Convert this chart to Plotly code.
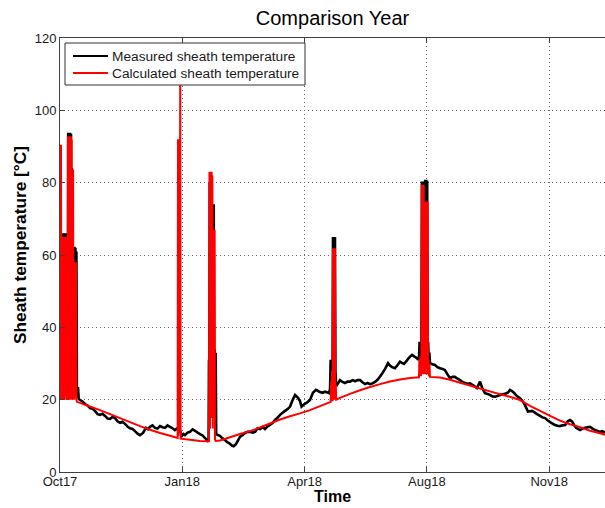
import pandas as pd
import plotly.graph_objects as go

# Series start date; x values below are days elapsed since this date.
START_DATE = "2017-10-05"

# Measured sheath temperature: (day, degC)
measured = [
    # October start-up spikes
    (0.0, 20), (0.3, 39), (0.6, 21), (0.9, 38), (1.2, 22), (1.6, 21), (2.0, 66), (2.4, 22),
    (2.8, 66), (3.2, 21), (3.6, 66), (4.0, 24), (4.4, 66), (4.8, 27), (5.2, 66), (5.6, 21),
    (6.0, 38), (6.4, 20), (6.7, 93.8), (7.0, 21), (7.4, 93.8), (7.8, 22), (8.2, 93.8), (8.6, 21),
    (9.0, 93.5), (9.4, 22), (9.8, 84), (10.2, 78), (10.6, 22), (11.0, 62.3), (11.4, 22),
    (11.8, 62.3), (12.2, 21), (12.6, 62), (13.0, 22), (13.4, 61), (13.8, 21),
    # autumn / winter
    (13.9, 20.5), (14.7, 23.5), (15.3, 20.2), (16.4, 19.9), (18.4, 19.5), (20.4, 18.8),
    (22.5, 18.4), (24.5, 17.7), (26.6, 17.5), (28.6, 16.9), (30.7, 16.0), (32.7, 15.8),
    (34.8, 16.1), (36.8, 15.5), (38.9, 14.8), (40.9, 14.7), (43.0, 15.2), (45.0, 14.9),
    (47.0, 14.0), (49.1, 13.6), (51.1, 13.9), (53.1, 13.3), (55.2, 12.6), (57.2, 12.1),
    (59.3, 11.9), (61.3, 11.3), (63.4, 10.6), (65.4, 10.2), (67.9, 10.8), (70.3, 12.2),
    (72.0, 11.8), (73.6, 12.5), (75.6, 12.9), (77.7, 12.2), (79.7, 12.0), (81.8, 12.7),
    (83.8, 12.4), (85.9, 12.2), (87.9, 12.9), (89.9, 12.5), (92.0, 12.1), (94.0, 11.6),
    (96.5, 12.2), (98.0, 11.5), (99.8, 10.0), (101.0, 10.5), (102.2, 10.2), (104.3, 10.9),
    (106.3, 11.1), (108.4, 11.8), (110.4, 11.4), (112.5, 10.9), (114.5, 10.5), (116.6, 10.1),
    (118.6, 9.4), (121.0, 8.4),
    # February event
    (121.5, 9.0), (121.8, 31), (122.1, 12), (122.4, 80), (122.8, 15), (123.2, 80), (123.6, 15),
    (124.0, 80), (124.4, 15), (124.9, 74), (125.3, 20), (125.7, 74), (126.1, 20), (126.5, 34),
    (126.9, 14), (127.3, 33), (127.7, 10.5),
    # spring
    (129.0, 10.2), (130.8, 10.0), (132.9, 9.3), (134.9, 8.85), (136.5, 8.3), (138.2, 8.0),
    (140.6, 7.3), (142.0, 7.1), (143.9, 7.7), (147.2, 9.8), (149.2, 10.2), (151.3, 10.8),
    (153.4, 11.1), (155.4, 11.1), (157.4, 10.9), (159.5, 11.1), (161.5, 12.1), (163.5, 11.9),
    (165.6, 12.4), (167.6, 11.9), (169.7, 12.6), (171.7, 13.0), (173.7, 13.5), (175.8, 14.4),
    (177.8, 15.0), (179.9, 15.8), (182.0, 16.4), (184.0, 16.9), (186.1, 17.4), (188.1, 18.1),
    (190.1, 19.8), (192.2, 21.3), (194.6, 20.5), (196.2, 19.6), (197.5, 18.1), (199.1, 18.6),
    (201.5, 19.1), (204.4, 19.9), (206.8, 21.9), (209.3, 22.7), (211.0, 22.4), (212.6, 22.1),
    (214.6, 21.9), (216.7, 22.2), (218.7, 22.0), (220.0, 21.8),
    # May event
    (220.8, 23), (221.3, 31), (221.8, 22.7), (222.3, 30), (222.8, 23), (223.2, 65), (223.6, 25),
    (224.0, 65), (224.4, 25), (224.8, 65), (225.2, 28), (225.7, 24.6),
    # summer
    (226.6, 24.1), (228.9, 25.4), (231.0, 24.9), (233.0, 24.6), (235.1, 25.0), (237.1, 25.0),
    (239.2, 25.4), (241.2, 25.1), (243.3, 25.4), (245.3, 25.4), (247.3, 24.8), (249.4, 24.3),
    (251.4, 24.6), (253.5, 24.3), (255.5, 24.5), (257.6, 24.9), (259.6, 25.5), (261.7, 26.4),
    (263.7, 27.4), (265.8, 28.5), (268.2, 30.1), (269.8, 29.4), (271.5, 29.0), (273.9, 28.7),
    (276.0, 29.6), (278.0, 30.5), (279.6, 30.2), (281.3, 29.9), (283.4, 30.7), (284.6, 31.3),
    (286.2, 31.9), (287.8, 32.4), (289.8, 31.9), (291.9, 31.5), (292.5, 31.0),
    # August event
    (293.5, 31.5), (294.0, 36), (294.5, 29), (295.0, 35), (295.5, 30), (295.9, 80.3), (296.3, 30),
    (296.7, 80.3), (297.1, 30), (297.5, 80), (297.9, 32), (298.1, 42), (298.3, 33), (298.6, 80.8),
    (299.0, 30), (299.4, 80.8), (299.8, 30), (300.2, 80.5), (300.6, 31), (301.0, 36), (301.5, 30),
    (302.0, 33),
    # autumn 2018
    (302.5, 30.1), (304.5, 29.8), (306.6, 29.6), (308.6, 29.0), (310.7, 28.7), (312.7, 28.5),
    (314.7, 28.2), (316.8, 27.0), (318.9, 25.9), (320.9, 26.3), (322.9, 26.3), (325.0, 25.8),
    (327.1, 25.4), (329.1, 24.9), (331.2, 24.6), (333.2, 24.4), (335.2, 24.5), (338.5, 23.8),
    (340.9, 23.2), (343.4, 25.0), (345.5, 23.0), (347.5, 21.8), (349.6, 21.6), (351.6, 21.3),
    (353.6, 20.9), (355.7, 20.8), (357.7, 21.0), (359.8, 21.3), (361.8, 21.5), (363.9, 21.6),
    (366.3, 22.0), (367.9, 22.7), (369.5, 22.4), (371.2, 21.9), (373.6, 21.0), (376.1, 20.4),
    (378.1, 19.6), (380.2, 18.5), (382.6, 16.7), (384.3, 16.8), (385.9, 16.9), (388.0, 16.5),
    (390.4, 15.9), (392.5, 15.5), (394.5, 15.1), (396.6, 14.9), (398.6, 14.3), (400.7, 13.8),
    (402.7, 13.4), (404.7, 13.0), (406.8, 12.8), (408.8, 12.7), (410.8, 12.9), (413.0, 13.0),
    (415.4, 14.1), (417.0, 14.4), (418.6, 14.0), (420.3, 13.0), (422.0, 12.2), (425.2, 11.6),
    (427.3, 12.0), (429.3, 12.2), (433.4, 12.5), (435.4, 12.0), (437.5, 11.6), (441.5, 11.1),
    (443.5, 11.3), (445.6, 10.8),
]

# Calculated sheath temperature: (day, degC)
calculated = [
    # October start-up spikes
    (0.0, 20), (0.2, 90.5), (0.5, 20), (0.8, 90.5), (1.1, 22), (1.4, 20), (1.7, 21), (2.0, 65),
    (2.3, 20), (2.6, 65), (2.9, 22), (3.2, 65), (3.5, 20), (3.8, 65), (4.1, 21), (4.4, 65),
    (4.7, 22), (5.0, 65), (5.3, 20), (5.8, 20.5), (6.3, 20), (6.5, 92.8), (6.8, 21), (7.1, 92.8),
    (7.4, 20), (7.7, 92.8), (8.0, 22), (8.3, 92.8), (8.6, 20), (8.9, 92.8), (9.2, 21), (9.5, 92),
    (9.8, 20), (10.1, 83.5), (10.4, 20), (10.7, 83.5), (11.0, 21), (11.3, 58), (11.6, 20),
    (11.9, 58), (12.2, 22), (12.5, 58), (12.8, 21), (13.1, 58), (13.4, 20),
    # autumn / winter
    (13.9, 19.4), (24.5, 18.1), (32.7, 17.1), (40.9, 16.0), (49.1, 14.9), (57.2, 13.8),
    (65.4, 12.7), (73.6, 11.7), (81.8, 10.8), (89.9, 10.0), (96.2, 9.4),
    # January event
    (96.5, 92), (96.8, 10), (97.1, 92), (97.4, 12), (97.7, 92), (98.0, 15), (98.3, 118),
    (98.6, 9.2),
    (106.3, 8.9), (114.5, 8.6), (121.8, 8.5),
    # February event
    (122.0, 30), (122.2, 83), (122.5, 12), (122.8, 83), (123.1, 15), (123.4, 83), (123.7, 20),
    (124.0, 83), (124.3, 15), (124.6, 82), (124.9, 12), (125.2, 67), (125.5, 20), (125.8, 67),
    (126.1, 25), (126.4, 67), (126.7, 9), (127.2, 8.6),
    # spring
    (130.8, 8.7), (139.0, 9.6), (147.2, 10.5), (155.4, 11.3), (163.5, 12.3), (171.7, 13.4),
    (179.9, 14.5), (188.1, 15.4), (196.2, 16.2), (204.4, 17.1), (212.6, 18.2), (220.8, 19.3),
    # May event
    (221.3, 19.4), (221.7, 25), (222.1, 19.5), (222.5, 28), (222.9, 19.6), (223.2, 61.9),
    (223.6, 20), (224.0, 61.9), (224.4, 21), (224.8, 61.9), (225.1, 20), (225.5, 24),
    (225.9, 20.0),
    # summer
    (228.9, 20.5), (237.1, 21.6), (245.3, 22.6), (253.5, 23.5), (261.7, 24.3), (269.8, 25.0),
    (278.0, 25.6), (286.2, 26.0), (293.5, 26.2),
    # August event
    (293.9, 31), (294.3, 26.5), (294.7, 32), (295.1, 26.5), (295.5, 30), (295.8, 79.4),
    (296.2, 27), (296.6, 79.4), (297.0, 27), (297.4, 79.4), (297.8, 27), (298.4, 74.8),
    (298.8, 27), (299.2, 74.8), (299.6, 27), (300.0, 74.8), (300.4, 27), (300.6, 74.8),
    (300.9, 27), (301.3, 31), (301.7, 26.5), (302.1, 30), (302.5, 26.3),
    # autumn 2018
    (310.7, 26.1), (318.9, 25.5), (327.1, 24.7), (335.2, 23.9), (343.4, 23.1), (351.6, 22.3),
    (359.8, 21.5), (367.9, 20.8), (376.1, 19.9), (384.3, 18.3), (392.5, 16.9), (400.7, 15.5),
    (408.8, 14.2), (417.0, 13.2), (425.2, 12.4), (433.4, 11.4), (441.5, 10.7), (445.6, 10.3),
]

series_names = ["Measured sheath temperature", "Calculated sheath temperature"]
series_colors = ["black", "#ff0000"]
series_widths = [2.6, 2.0]

x_range_days = [0, 445.6]
tick_dates = ["2017-10-05", "2018-01-13", "2018-04-23", "2018-08-01", "2018-11-09"]
tick_labels = ["Oct17", "Jan18", "Apr18", "Aug18", "Nov18"]
y_ticks = [0, 20, 40, 60, 80, 100, 120]

t0 = pd.Timestamp(START_DATE)


def to_time(days):
    return t0 + pd.to_timedelta(list(days), unit="D")


FONT = "Liberation Sans, Arial, Helvetica, sans-serif"
AXIS_COLOR = "#404040"

# Plot-area geometry in pixels (used to place the legend box and axis titles)
W, H = 605, 508
L, R, T, B = 60, 0, 38, 36
PW, PH = W - L - R, H - T - B


def px_x(p):
    return (p - L) / PW


def px_y(p):
    return (H - B - p) / PH


fig = go.Figure()
for data, name, color, width in zip([measured, calculated], series_names,
                                    series_colors, series_widths):
    days, temps = zip(*data)
    fig.add_trace(go.Scatter(
        x=to_time(days), y=list(temps), mode="lines", name=name,
        line=dict(color=color, width=width, simplify=False),
        showlegend=False,
    ))

# Boxed legend in the upper-left corner, opaque over the data
shapes = [dict(type="rect", xref="paper", yref="paper",
               x0=px_x(65), x1=px_x(305), y0=px_y(85), y1=px_y(43),
               fillcolor="white", line=dict(color="#333333", width=1), layer="above")]
annotations = []
for i, (name, color) in enumerate(zip(series_names, series_colors)):
    yy = px_y(56 + 17 * i)
    shapes.append(dict(type="line", xref="paper", yref="paper",
                       x0=px_x(73), x1=px_x(108), y0=yy, y1=yy,
                       line=dict(color=color, width=2), layer="above"))
    annotations.append(dict(text=name, xref="paper", yref="paper",
                            x=px_x(110), y=yy, xanchor="left", yanchor="middle",
                            showarrow=False,
                            font=dict(size=13.7, color="#1a1a1a", family=FONT)))

# Axis titles
annotations.append(dict(text="<b>Time</b>", xref="paper", yref="paper",
                        x=0.5, y=px_y(496), xanchor="center", yanchor="middle",
                        showarrow=False, font=dict(size=16, color="black", family=FONT)))
annotations.append(dict(text="<b>Sheath temperature [°C]</b>", xref="paper", yref="paper",
                        x=px_x(20), y=px_y(245), xanchor="center", yanchor="middle",
                        textangle=-90, showarrow=False,
                        font=dict(size=17.3, color="black", family=FONT)))

fig.update_layout(
    width=W, height=H,
    margin=dict(l=L, r=R, t=T, b=B),
    paper_bgcolor="white", plot_bgcolor="white",
    font=dict(family=FONT, color="#1a1a1a", size=13),
    title=dict(text="Comparison Year", x=0.5, xref="paper", xanchor="center",
               y=1 - 18 / H, yref="container", yanchor="middle",
               font=dict(size=20, color="black", family=FONT)),
    showlegend=False,
    shapes=shapes,
    annotations=annotations,
)

fig.update_xaxes(
    type="date",
    range=list(to_time(x_range_days)),
    tickmode="array", tickvals=pd.to_datetime(tick_dates), ticktext=tick_labels,
    ticks="inside", ticklen=5, tickcolor=AXIS_COLOR, tickwidth=1,
    ticklabelstandoff=-3,
    showline=True, linecolor=AXIS_COLOR, linewidth=1, mirror="ticks",
    showgrid=True, gridcolor="#666666", gridwidth=1, griddash="1px,3px",
    zeroline=False, automargin=False,
    tickfont=dict(size=13, color="#1a1a1a"),
)
fig.update_yaxes(
    range=[0, 120], tickmode="array", tickvals=y_ticks,
    ticks="inside", ticklen=5, tickcolor=AXIS_COLOR, tickwidth=1,
    showline=True, linecolor=AXIS_COLOR, linewidth=1, mirror=False,
    showgrid=True, gridcolor="#666666", gridwidth=1, griddash="1px,3px",
    zeroline=False, automargin=False,
    tickfont=dict(size=13, color="#1a1a1a"),
)

fig.write_html("out.html")
